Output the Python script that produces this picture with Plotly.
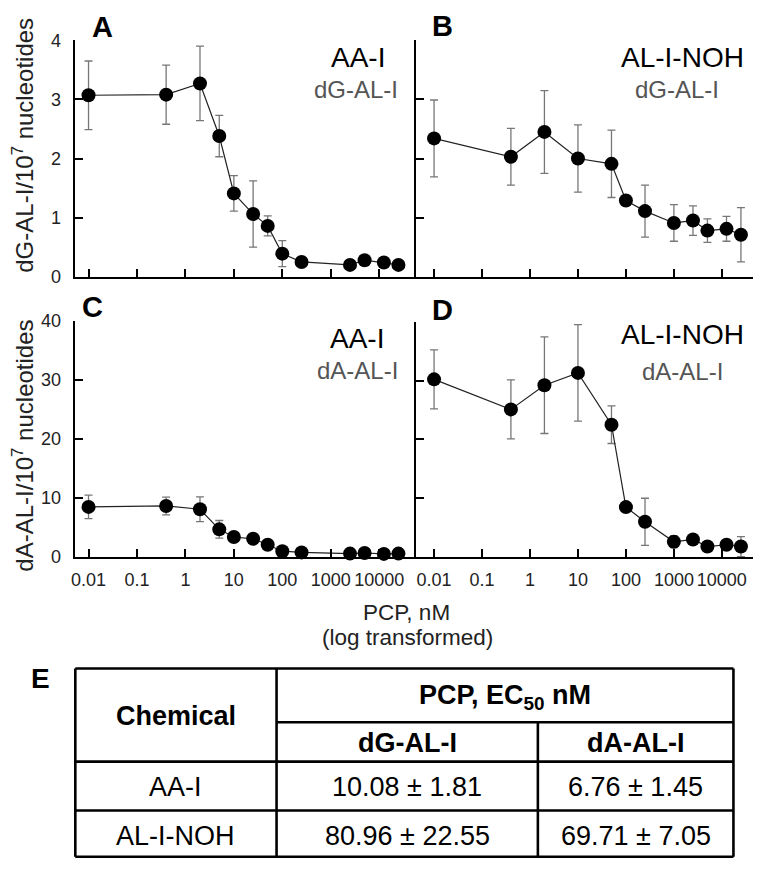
import plotly.graph_objects as go

# ---------------- data ----------------
conc_aai = [0.01, 0.4, 2, 5, 10, 25, 50, 100, 250, 2500, 5000, 12500, 25000]
conc_noh = [0.01, 0.4, 2, 10, 50, 100, 250, 1000, 2500, 5000, 12500, 25000]

dg_aai = [3.07, 3.08, 3.27, 2.38, 1.41, 1.06, 0.86, 0.39, 0.25, 0.20, 0.28, 0.24, 0.20]
dg_aai_err = [0.58, 0.50, 0.63, 0.35, 0.30, 0.56, 0.17, 0.22, 0.04, 0.04, 0.08, 0.05, 0.04]

dg_noh = [2.34, 2.03, 2.45, 2.00, 1.91, 1.29, 1.11, 0.91, 0.95, 0.78, 0.81, 0.71]
dg_noh_err = [0.65, 0.48, 0.70, 0.57, 0.57, 0.08, 0.44, 0.31, 0.25, 0.20, 0.21, 0.46]

da_aai = [8.5, 8.66, 8.1, 4.7, 3.4, 3.1, 2.1, 1.0, 0.8, 0.6, 0.7, 0.55, 0.6]
da_aai_err = [2.0, 1.5, 2.1, 1.5, 0.5, 0.4, 0.4, 0.3, 0.3, 0.2, 0.2, 0.2, 0.2]

da_noh = [30.2, 25.1, 29.2, 31.3, 22.5, 8.5, 6.0, 2.6, 3.0, 1.8, 2.1, 1.8]
da_noh_err = [5.0, 5.0, 8.2, 8.2, 3.2, 0.6, 4.0, 1.0, 0.8, 0.5, 0.5, 1.7]

x_tickvals = [0.01, 0.1, 1, 10, 100, 1000, 10000]
x_ticktext = ["0.01", "0.1", "1", "10", "100", "1000", "10000"]
dg_ticks = [0, 1, 2, 3, 4]
da_ticks = [0, 10, 20, 30, 40]

panel_titles = ["AA-I", "AL-I-NOH", "AA-I", "AL-I-NOH"]
panel_subtitles = ["dG-AL-I", "dG-AL-I", "dA-AL-I", "dA-AL-I"]
panel_letters = ["A", "B", "C", "D"]

table_header = ["Chemical", "PCP, EC<sub>50</sub> nM", "dG-AL-I", "dA-AL-I"]
table_chemicals = ["AA-I", "AL-I-NOH"]
table_dg = ["10.08 ± 1.81", "80.96 ± 22.55"]
table_da = ["6.76 ± 1.45", "69.71 ± 7.05"]

# ---------------- layout helpers ----------------
W, H = 760, 870
FONT = "Liberation Sans, Arial, sans-serif"


def px(x):
    return x / W


def py(y):
    return 1 - y / H


fig = go.Figure()

panels = [
    ("x", "y", conc_aai, dg_aai, dg_aai_err),
    ("x2", "y2", conc_noh, dg_noh, dg_noh_err),
    ("x3", "y3", conc_aai, da_aai, da_aai_err),
    ("x4", "y4", conc_noh, da_noh, da_noh_err),
]

for xa, ya, xs, ys, es in panels:
    fig.add_trace(go.Scatter(
        x=xs, y=ys, xaxis=xa, yaxis=ya, mode="lines+markers",
        line=dict(color="#222", width=1.2),
        marker=dict(color="black", size=14),
        error_y=dict(type="data", array=es, color="#777", thickness=1.3, width=4),
        cliponaxis=False, showlegend=False, hoverinfo="skip",
    ))

geo = {
    "A": dict(x0=71, x1=413, y0=31, y1=273, xr=[-2.287, 4.736]),
    "B": dict(x0=414, x1=753, y0=31, y1=273, xr=[-2.38, 4.65]),
    "C": dict(x0=71, x1=413, y0=318, y1=560, xr=[-2.287, 4.736]),
    "D": dict(x0=414, x1=753, y0=319, y1=560, xr=[-2.38, 4.65]),
}

axis_common = dict(showline=True, linecolor="black", linewidth=2, ticks="inside",
                   ticklen=8, tickwidth=2, tickcolor="black", showgrid=False,
                   zeroline=False, tickfont=dict(family=FONT, size=18, color="#222"))

layout_axes = {}
names = [("xaxis", "yaxis", "x", "y"), ("xaxis2", "yaxis2", "x2", "y2"),
         ("xaxis3", "yaxis3", "x3", "y3"), ("xaxis4", "yaxis4", "x4", "y4")]
for i, key in enumerate(["A", "B", "C", "D"]):
    g = geo[key]
    xn, yn, xs, ys = names[i]
    layout_axes[xn] = dict(
        axis_common, domain=[px(g["x0"]), px(g["x1"])], anchor=ys, type="log",
        range=g["xr"], tickvals=x_tickvals, ticktext=x_ticktext,
        showticklabels=key in ("C", "D"), ticklabelstandoff=5,
    )
    layout_axes[yn] = dict(
        axis_common, domain=[py(g["y1"]), py(g["y0"])], anchor=xs,
        range=[0, 4] if key in ("A", "B") else [0, 40],
        tickvals=dg_ticks if key in ("A", "B") else da_ticks,
        showticklabels=key in ("A", "C"), ticklabelstandoff=8,
    )

annotations = []


def ann(text, x, y, size, color="black", bold=False, angle=0):
    if bold:
        text = "<b>" + text + "</b>"
    annotations.append(dict(
        text=text, x=px(x), y=py(y), xref="paper", yref="paper",
        xanchor="center", yanchor="middle", showarrow=False, textangle=angle,
        font=dict(family=FONT, size=size, color=color),
    ))


letter_pos = [(99, 17), (441, 16), (89, 304), (441, 307)]
for (lx, lyy), t in zip(letter_pos, panel_letters):
    ann(t, lx, lyy, 29, bold=True)
ann("E", 37, 684, 28, bold=True)

title_pos = [(356, 49), (682, 49), (355, 336), (682, 332)]
sub_pos = [(354, 81), (677, 81), (355, 369), (682, 370)]
for (tx, ty), t in zip(title_pos, panel_titles):
    ann(t, tx, ty, 28)
for (sx, sy), t in zip(sub_pos, panel_subtitles):
    ann(t, sx, sy, 24, color="#555")

ann("dG-AL-I/10<sup>7</sup> nucleotides", 19, 138, 24, color="#222", angle=-90)
ann("dA-AL-I/10<sup>7</sup> nucleotides", 19, 446, 24, color="#222", angle=-90)

ann("PCP, nM", 405, 617, 22.5, color="#222")
ann("(log transformed)", 406, 642, 22.5, color="#222")

# ---------------- table ----------------
tl, tr, tt, tb = 71.7, 733.3, 674, 866.7
c1, c2 = 274, 536.7
r_sub, r_head, r_1 = 729, 769.3, 819.3

shapes = []


def line(x0, y0, x1, y1, w=2.6):
    shapes.append(dict(type="line", xref="paper", yref="paper",
                       x0=px(x0), y0=py(y0), x1=px(x1), y1=py(y1),
                       line=dict(color="black", width=w)))


line(tl, tt, tr, tt)
line(tl, tb, tr, tb)
line(tl, tt, tl, tb)
line(tr, tt, tr, tb)
line(c1, tt, c1, tb)
line(c2, r_sub, c2, tb)
line(c1, r_sub, tr, r_sub)
line(tl, r_head, tr, r_head)
line(tl, r_1, tr, r_1)

col_c = [(tl + c1) / 2, (c1 + c2) / 2, (c2 + tr) / 2]
ann(table_header[0], col_c[0], 723, 27, bold=True)
ann(table_header[1], (c1 + tr) / 2, 703, 27, bold=True)
ann(table_header[2], col_c[1], 750, 27, bold=True)
ann(table_header[3], col_c[2], 750, 27, bold=True)
row_y = [795, 845]
for i in range(2):
    ann(table_chemicals[i], col_c[0], row_y[i], 27)
    ann(table_dg[i], col_c[1], row_y[i], 27)
    ann(table_da[i], col_c[2], row_y[i], 27)

fig.update_layout(
    width=W, height=H, margin=dict(l=0, r=0, t=0, b=0),
    paper_bgcolor="white", plot_bgcolor="white",
    font=dict(family=FONT), showlegend=False, hovermode=False,
    annotations=annotations, shapes=shapes, **layout_axes,
)

fig.write_html(
    "out.html",
    config={"displayModeBar": False},
    post_script="document.body.style.margin='0px';document.body.style.overflow='hidden';",
)
